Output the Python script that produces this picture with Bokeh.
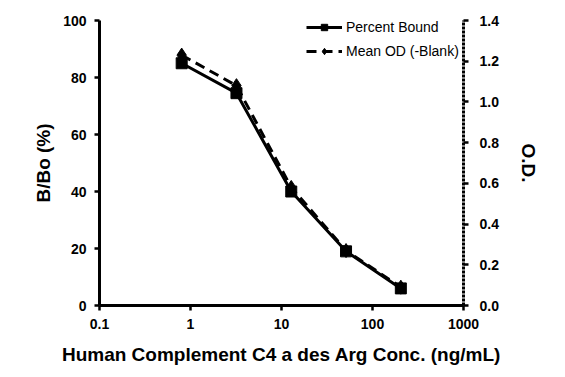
from bokeh.plotting import figure
from bokeh.models import (Range1d, LinearAxis, LogAxis, FixedTicker, Legend, LegendItem,
                          ColumnDataSource, PrintfTickFormatter)
from bokeh.embed import file_html
from bokeh.resources import INLINE

conc = [0.8, 3.2, 12.8, 51.2, 204.8]
percent_bound = [85.0, 74.5, 40.0, 19.0, 6.0]
mean_od = [1.23, 1.08, 0.58, 0.27, 0.09]
x_ticks = [0.1, 1, 10, 100, 1000]
x_tick_labels = ["0.1", "1", "10", "100", "1000"]
y_ticks = [0, 20, 40, 60, 80, 100]
od_ticks = [0.0, 0.2, 0.4, 0.6, 0.8, 1.0, 1.2, 1.4]

FONT = "Liberation Sans"

p = figure(width=557, height=369, output_backend="svg", toolbar_location=None,
           x_axis_type="log", x_range=Range1d(0.1, 1000), y_range=Range1d(0, 100),
           frame_width=364, frame_height=285,
           min_border_left=99, min_border_right=94, min_border_top=20, min_border_bottom=64,
           x_axis_location=None, y_axis_location=None)
p.outline_line_color = None
p.grid.visible = False
p.background_fill_color = "white"
p.border_fill_color = "white"
p.extra_y_ranges = {"od": Range1d(0, 1.4)}


def style(ax):
    ax.axis_line_width = 3
    ax.axis_line_color = "black"
    ax.major_tick_line_width = 2.5
    ax.major_tick_line_color = "black"
    ax.major_tick_out = 5
    ax.major_tick_in = 0
    ax.minor_tick_line_color = None
    ax.major_label_text_font = FONT
    ax.major_label_text_font_style = "bold"
    ax.major_label_text_font_size = "14px"
    ax.major_label_text_color = "black"
    ax.axis_label_text_font = FONT
    ax.axis_label_text_font_style = "bold"
    ax.axis_label_text_font_size = "19px"
    ax.axis_label_text_color = "black"


xa = LogAxis(ticker=FixedTicker(ticks=x_ticks),
             axis_label="Human Complement C4 a des Arg Conc. (ng/mL)")
xa.major_label_overrides = {t: l for t, l in zip(x_ticks, x_tick_labels)}
style(xa)
xa.major_label_standoff = 8
xa.axis_label_standoff = 12
p.add_layout(xa, "below")

ya = LinearAxis(ticker=FixedTicker(ticks=y_ticks), axis_label="B/Bo (%)")
style(ya)
ya.major_label_standoff = 8
ya.axis_label_standoff = 6
p.add_layout(ya, "left")

yr = LinearAxis(y_range_name="od", ticker=FixedTicker(ticks=od_ticks), axis_label="O.D.")
style(yr)
yr.axis_line_dash = "3 1"
yr.major_label_standoff = 11
yr.axis_label_standoff = 16
yr.formatter = PrintfTickFormatter(format="%.1f")
p.add_layout(yr, "right")

src = ColumnDataSource(dict(x=conc, pb=percent_bound, od=mean_od))

r_od_line = p.line("x", "od", source=src, y_range_name="od", line_color="black",
                   line_width=3, line_dash="10 6")
r_od_pts = p.scatter("x", "od", source=src, y_range_name="od", marker="diamond",
                     size=14, fill_color="black", line_color="black")
r_pb_line = p.line("x", "pb", source=src, line_color="black", line_width=3)
r_pb_pts = p.scatter("x", "pb", source=src, marker="square", size=11,
                     fill_color="black", line_color="black")

legend = Legend(items=[LegendItem(label="Percent Bound", renderers=[r_pb_line, r_pb_pts]),
                       LegendItem(label="Mean OD (-Blank)", renderers=[r_od_line, r_od_pts])],
                location=(207, 246), padding=0, margin=0, spacing=8,
                glyph_width=36, glyph_height=16, label_standoff=4,
                border_line_color=None, background_fill_alpha=0,
                label_text_font=FONT, label_text_font_size="14px",
                label_text_color="black", label_height=16)
p.add_layout(legend, "center")

open("out.html", "w").write(file_html(p, INLINE))
